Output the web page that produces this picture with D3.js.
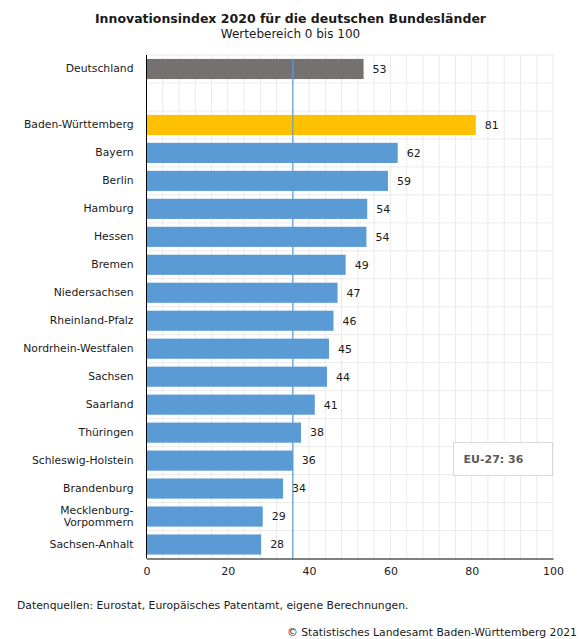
<!DOCTYPE html>
<html>
<head>
<meta charset="utf-8">
<script src="https://cdn.jsdelivr.net/npm/d3@7"></script>
<style>
    body { margin: 0; background: #fff; }
    #chart { width: 581px; height: 639px; }
    text { font-family: 'DejaVu Sans', sans-serif; fill: #1a1a1a; }
</style>
</head>
<body>
<div id="chart"></div>
<script>
// Kategorien (leerer Eintrag = Abstand nach Deutschland)
const categories = ['Deutschland', '_gap', 'Baden-Württemberg', 'Bayern', 'Berlin', 'Hamburg', 'Hessen',
    'Bremen', 'Niedersachsen', 'Rheinland-Pfalz', 'Nordrhein-Westfalen', 'Sachsen', 'Saarland',
    'Thüringen', 'Schleswig-Holstein', 'Brandenburg', 'Mecklenburg-Vorpommern', 'Sachsen-Anhalt'];
const values = [53.4, null, 81.0, 61.8, 59.4, 54.3, 54.1, 49.0, 47.0, 46.0, 44.9, 44.4, 41.4,
    38.0, 36.0, 33.6, 28.6, 28.2];
const euValue = 36;
const xTicks = [0, 20, 40, 60, 80, 100];

class IndexChart {
    constructor(div_id) {
        this.div_id = div_id;
        this.width = 581;
        this.height = 639;
        this.margin = { top: 55, right: 28, bottom: 80, left: 146.5 };
        this.colors = { de: '#767171', bw: '#ffc000', land: '#5b9bd5', grid: '#eaeaea' };
        this.svg = undefined;
    }

    setting() {
        this.svg = d3.select(`div[id='${this.div_id}']`)
            .append('svg')
            .attr('width', this.width)
            .attr('height', this.height);

        this.x = d3.scaleLinear()
            .domain([0, 100])
            .range([this.margin.left, this.width - this.margin.right]);
        this.y = d3.scaleBand()
            .domain(categories)
            .range([this.margin.top, 558.5])
            .paddingInner(0.28)
            .paddingOuter(0.14);
    }

    renderTitle() {
        this.svg.append('text')
            .attr('x', 290.5).attr('y', 23)
            .attr('text-anchor', 'middle')
            .attr('font-size', '12.5px')
            .attr('font-weight', 'bold')
            .text('Innovationsindex 2020 für die deutschen Bundesländer');
        this.svg.append('text')
            .attr('x', 290.5).attr('y', 38)
            .attr('text-anchor', 'middle')
            .attr('font-size', '12px')
            .text('Wertebereich 0 bis 100');
    }

    renderGrid() {
        const top = this.margin.top, bottom = 558.5;
        const g = this.svg.append('g').attr('class', 'grid');
        g.selectAll('line.v')
            .data(d3.range(4, 101, 4))
            .join('line')
            .attr('x1', d => this.x(d)).attr('x2', d => this.x(d))
            .attr('y1', top).attr('y2', bottom)
            .attr('stroke', this.colors.grid);
        const step = this.y.step();
        g.selectAll('line.h')
            .data(d3.range(0, categories.length))
            .join('line')
            .attr('x1', this.x(0)).attr('x2', this.x(100))
            .attr('y1', i => top + i * step).attr('y2', i => top + i * step)
            .attr('stroke', this.colors.grid);
    }

    renderBars() {
        const rows = categories.map((c, i) => ({ name: c, value: values[i] }))
            .filter(d => d.value !== null);
        const color = d => d.name === 'Deutschland' ? this.colors.de
            : d.name === 'Baden-Württemberg' ? this.colors.bw : this.colors.land;

        this.svg.append('g')
            .selectAll('rect')
            .data(rows)
            .join('rect')
            .attr('x', this.x(0))
            .attr('y', d => this.y(d.name))
            .attr('width', d => this.x(d.value) - this.x(0))
            .attr('height', this.y.bandwidth())
            .attr('fill', color);

        // EU-27 Linie
        this.svg.append('line')
            .attr('x1', this.x(euValue)).attr('x2', this.x(euValue))
            .attr('y1', this.y('Deutschland')).attr('y2', 558.5)
            .attr('stroke', this.colors.land)
            .attr('stroke-width', 1.2);

        this.svg.append('g')
            .selectAll('text')
            .data(rows)
            .join('text')
            .attr('x', d => this.x(d.value) + 9)
            .attr('y', d => this.y(d.name) + this.y.bandwidth() / 2)
            .attr('dy', '0.35em')
            .attr('font-size', '11px')
            .text(d => Math.round(d.value));
    }

    renderAxes() {
        const yAxis = this.svg.append('g')
            .attr('transform', `translate(${this.x(0)},0)`)
            .call(d3.axisLeft(this.y).tickSize(0).tickPadding(13)
                .tickFormat(d => d === '_gap' ? '' : d));
        yAxis.select('.domain').attr('stroke', '#000').attr('d', `M0,${this.margin.top}V558.5`);
        yAxis.selectAll('text').attr('font-size', '10.8px').attr('font-family', null);

        // zweizeilige Beschriftung
        yAxis.selectAll('.tick text')
            .filter(d => d === 'Mecklenburg-Vorpommern')
            .text(null)
            .call(t => {
                t.append('tspan').attr('x', -13).attr('dy', '-0.25em').text('Mecklenburg-');
                t.append('tspan').attr('x', -13).attr('dy', '1.15em').text('Vorpommern');
            });

        const xAxis = this.svg.append('g')
            .attr('transform', 'translate(0,558.5)')
            .call(d3.axisBottom(this.x).tickValues(xTicks).tickSize(0).tickPadding(9));
        xAxis.select('.domain').attr('stroke', '#000');
        xAxis.selectAll('text').attr('font-size', '11px').attr('font-family', null);
    }

    renderLegend() {
        const g = this.svg.append('g').attr('transform', 'translate(453.5,442.5)');
        g.append('rect')
            .attr('width', 99).attr('height', 33)
            .attr('fill', '#fff')
            .attr('stroke', '#d9d9d9');
        g.append('text')
            .attr('x', 10).attr('y', 20.5)
            .attr('font-size', '11px')
            .attr('font-weight', 'bold')
            .style('fill', '#595959')
            .text(`EU-27: ${euValue}`);
    }

    renderFooter() {
        this.svg.append('text')
            .attr('x', 17).attr('y', 609)
            .attr('font-size', '10.8px')
            .text('Datenquellen: Eurostat, Europäisches Patentamt, eigene Berechnungen.');
        this.svg.append('text')
            .attr('x', 577).attr('y', 636)
            .attr('text-anchor', 'end')
            .attr('font-size', '10.8px')
            .text('© Statistisches Landesamt Baden-Württemberg 2021');
    }

    render() {
        this.setting();
        this.renderTitle();
        this.renderGrid();
        this.renderBars();
        this.renderAxes();
        this.renderLegend();
        this.renderFooter();
    }
}

new IndexChart('chart').render();
</script>
</body>
</html>
